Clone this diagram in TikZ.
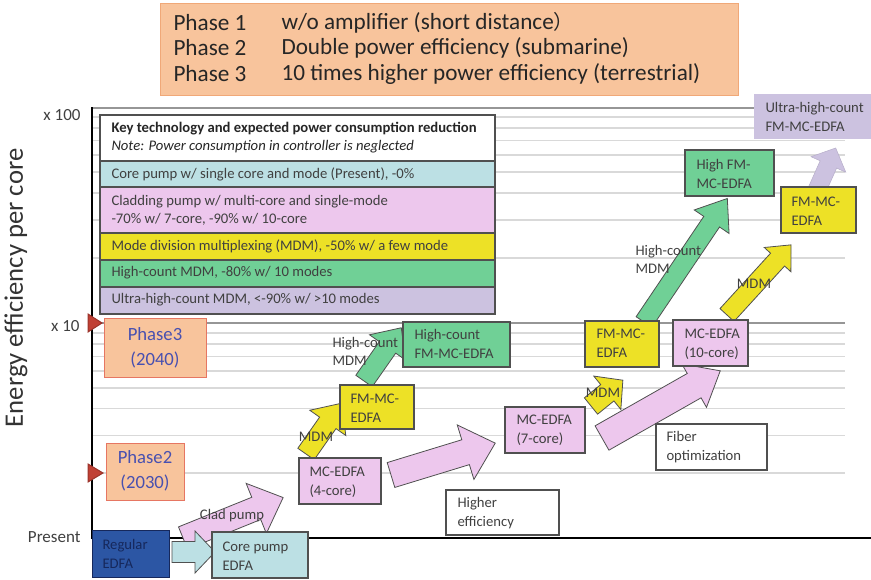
\documentclass[tikz,border=0pt]{standalone}
\usepackage{fontspec}
\setmainfont{Carlito}
\newfontfamily\cjk{Noto Sans CJK SC}

\definecolor{gridgray}{RGB}{217,217,217}
\definecolor{deckgray}{RGB}{150,150,150}
\definecolor{inkgray}{RGB}{64,64,64}
\definecolor{rimgray}{RGB}{80,80,80}
\definecolor{phaseorange}{RGB}{248,196,156}
\definecolor{phaserim}{RGB}{240,168,120}
\definecolor{phasered}{RGB}{230,118,98}
\definecolor{phaseblue}{RGB}{72,80,176}
\definecolor{markred}{RGB}{192,64,52}
\definecolor{regblue}{RGB}{44,86,164}
\definecolor{regink}{RGB}{22,40,92}
\definecolor{corefill}{RGB}{188,224,228}
\definecolor{cladfill}{RGB}{237,199,237}
\definecolor{mdmfill}{RGB}{237,225,38}
\definecolor{hcfill}{RGB}{112,208,150}
\definecolor{uhcfill}{RGB}{204,194,224}

\tikzset{every picture/.style={line width=0.75pt}}
\tikzset{
  gridline/.style={draw=gridgray, line width=1.2pt},
  decadeline/.style={draw=deckgray, line width=1.2pt},
  axisline/.style={draw=black, line width=2pt},
  boxrim/.style={draw=rimgray, line width=1pt},
  arrowrim/.style={draw=rimgray, line width=0.6pt},
  boxtext/.style={anchor=west, inner sep=0.75pt, align=left, text=inkgray,
    font=\fontsize{11}{14}\selectfont},
  keytext/.style={anchor=west, inner sep=0.75pt, align=left, text=inkgray,
    font=\fontsize{11}{13.5}\selectfont},
  steplabel/.style={inner sep=0.75pt, align=left, text=inkgray,
    font=\fontsize{11}{13.5}\selectfont},
  axislabel/.style={anchor=east, inner sep=0.75pt, text=inkgray,
    font=\fontsize{12.75}{15}\selectfont},
  phasetext/.style={inner sep=0.75pt, align=center, text=phaseblue,
    font=\fontsize{14}{19}\selectfont},
  pics/blockarrow/.style args={#1/#2/#3/#4}{
    code={
      \path[pic actions] (0,{-#2}) -- ({#1-#4},{-#2}) -- ({#1-#4},{-#3}) -- (#1,0)
        -- ({#1-#4},#3) -- ({#1-#4},#2) -- (0,#2) -- cycle;
    }
  }
}

\begin{document}
\begin{tikzpicture}[x=0.75pt,y=0.75pt,yscale=-1,xscale=1]
\useasboundingbox (0,0) rectangle (871,579);

%Grid: log decades
\foreach \k in {2,...,9}{
  \draw[gridline] (92,{323-216*log10(\k)}) -- (845,{323-216*log10(\k)});
  \draw[gridline] (92,{538-215*log10(\k)}) -- (845,{538-215*log10(\k)});
}
\draw[decadeline] (92,108) -- (845,108);
\draw[decadeline] (92,323) -- (845,323);

%Axes
\draw[axisline] (92,107) -- (92,538) -- (871,538);

%Markers
\draw[fill=markred, draw=markred!80!black] (88,314) -- (102,323) -- (88,332) -- cycle;
\draw[fill=markred, draw=markred!80!black] (88,464) -- (103,473) -- (88,482) -- cycle;

% Text Node
\node[axislabel] (xhundred) at (82,115) {x 100};
\node[axislabel] (xten) at (81,326) {x 10};
\node[axislabel] (present) at (82,537) {Present};
\node[rotate=90, inner sep=0.75pt, text=black!80, font=\fontsize{20}{24}\selectfont] (ylabel) at (16,288) {Energy efficiency per core};

%Shape: Phase list
\draw[fill=phaseorange, draw=phaserim] (160,3) rectangle (738,95);
\node[anchor=west, inner sep=0.75pt, align=left, text=black!85, font=\fontsize{17.4}{19.1}\selectfont] (phasenames) at (172,48) {Phase 1\\Phase 2\\Phase 3};
\node[anchor=west, inner sep=0.75pt, align=left, text=black!85, font=\fontsize{17.4}{19.1}\selectfont] (phasegoals) at (280,48) {w/o amplifier (short distance{\cjk\fontsize{15}{19.1}\selectfont ）}\\Double power efficiency (submarine)\\10 times higher power efficiency (terrestrial)};

%Shape: Key table
\draw[fill=white, boxrim] (100,115) rectangle (495,161);
\draw[fill=corefill, boxrim] (100,161) rectangle (495,187);
\draw[fill=cladfill, boxrim] (100,187) rectangle (495,233);
\draw[fill=mdmfill, boxrim] (100,233) rectangle (495,260);
\draw[fill=hcfill, boxrim] (100,260) rectangle (495,287);
\draw[fill=uhcfill, boxrim] (100,287) rectangle (495,314);
\node[keytext, text=black!85] (keyhead) at (110,138) {\textbf{Key technology and expected power consumption reduction}\\\textit{Note: Power consumption in controller is neglected}};
\node[keytext] (keycore) at (110,174) {Core pump w/ single core and mode (Present), -0\%};
\node[keytext] (keyclad) at (110,210) {Cladding pump w/ multi-core and single-mode\\-70\% w/ 7-core, -90\% w/ 10-core};
\node[keytext] (keymdm) at (110,246) {Mode division multiplexing (MDM), -50\% w/ a few mode};
\node[keytext] (keyhc) at (110,273) {High-count MDM, -80\% w/ 10 modes};
\node[keytext] (keyuhc) at (110,300) {Ultra-high-count MDM, <-90\% w/ >10 modes};

%Shape: Phase boxes
\draw[fill=phaseorange, draw=phasered] (104,318) rectangle (206,377);
\node[phasetext] (phasethree) at (155,348) {Phase3\\(2040)};
\draw[fill=phaseorange, draw=phasered] (106,443) rectangle (184,500);
\node[phasetext] (phasetwo) at (145,471) {Phase2\\(2030)};

%Block arrows
\pic[fill=cladfill, arrowrim, rotate=22] (cladarrow) at (183,538) {blockarrow=108/12/27/29};
\pic[fill=corefill, arrowrim] (corearrow) at (172,552) {blockarrow=43/10.5/21/20};
\pic[fill=mdmfill, arrowrim, rotate=55] (mdmarrowa) at (306,454) {blockarrow=62/10/22/24};
\pic[fill=hcfill, arrowrim, rotate=55] (hcarrowa) at (364,381) {blockarrow=65/10/22/24};
\pic[fill=cladfill, arrowrim, rotate=17] (effarrow) at (391,475) {blockarrow=109/13/28.5/31};
\pic[fill=mdmfill, arrowrim, rotate=39] (mdmarrowb) at (591,406) {blockarrow=41/10.5/21.5/20};
\pic[fill=cladfill, arrowrim, rotate=29.6] (fiberarrow) at (602,438) {blockarrow=136/14/25/30};
\pic[fill=hcfill, arrowrim, rotate=56] (hcarrowb) at (644,322) {blockarrow=149/9.5/21/28};
\pic[fill=mdmfill, arrowrim, rotate=47.6] (mdmarrowc) at (727,315) {blockarrow=95/9.5/18/20};
\pic[fill=uhcfill, draw=uhcfill!90!black, line width=0.4pt, rotate=66] (uhcarrow) at (817,190) {blockarrow=46/9/19/18};

%Shape: Amplifier boxes
\draw[fill=regblue, draw=regink] (92,530) rectangle (169,577);
\node[boxtext, text=regink] (regular) at (101,554) {Regular\\EDFA};
\draw[fill=corefill, boxrim] (212,532) rectangle (308,578);
\node[boxtext] (corepump) at (221,556) {Core pump\\EDFA};
\draw[fill=cladfill, boxrim] (299,458) rectangle (381,504);
\node[boxtext] (mcfour) at (308,482) {MC-EDFA\\(4-core)};
\draw[fill=mdmfill, boxrim] (340,385) rectangle (414,429);
\node[boxtext] (fmfour) at (349,408) {FM-MC-\\EDFA};
\draw[fill=hcfill, boxrim] (403,322) rectangle (510,367);
\node[boxtext] (hcfmfour) at (413,344) {High-count\\FM-MC-EDFA};
\draw[fill=white, boxrim] (446,490) rectangle (559,535);
\node[boxtext] (higheff) at (456,513) {Higher\\efficiency};
\draw[fill=cladfill, boxrim] (505,407) rectangle (585,453);
\node[boxtext] (mcseven) at (515,430) {MC-EDFA\\(7-core)};
\draw[fill=mdmfill, boxrim] (585,321) rectangle (659,367);
\node[boxtext] (fmseven) at (595,343) {FM-MC-\\EDFA};
\draw[fill=cladfill, boxrim] (673,320) rectangle (748,366);
\node[boxtext] (mcten) at (683,344) {MC-EDFA\\(10-core)};
\draw[fill=white, boxrim] (656,424) rectangle (767,470);
\node[boxtext] (fiberopt) at (665,447) {Fiber\\optimization};
\draw[fill=hcfill, boxrim] (685,150) rectangle (774,196);
\node[boxtext] (hcfmseven) at (695,174) {High FM-\\MC-EDFA};
\draw[fill=mdmfill, boxrim] (781,187) rectangle (856,233);
\node[boxtext] (fmten) at (790,211) {FM-MC-\\EDFA};
\fill[uhcfill] (754,94) rectangle (871,139);
\node[boxtext] (uhcfm) at (764,117) {Ultra-high-count\\FM-MC-EDFA};

% Text Node
\node[steplabel] (cladlabel) at (232,516) {Clad pump};
\node[steplabel] (mdmlabela) at (316,437) {MDM};
\node[steplabel, anchor=west] (hclabela) at (331,351) {High-count\\MDM};
\node[steplabel] (mdmlabelb) at (603,393) {MDM};
\node[steplabel, anchor=west] (hclabelb) at (634,259) {High-count\\MDM};
\node[steplabel] (mdmlabelc) at (754,284) {MDM};

\end{tikzpicture}
\end{document}
